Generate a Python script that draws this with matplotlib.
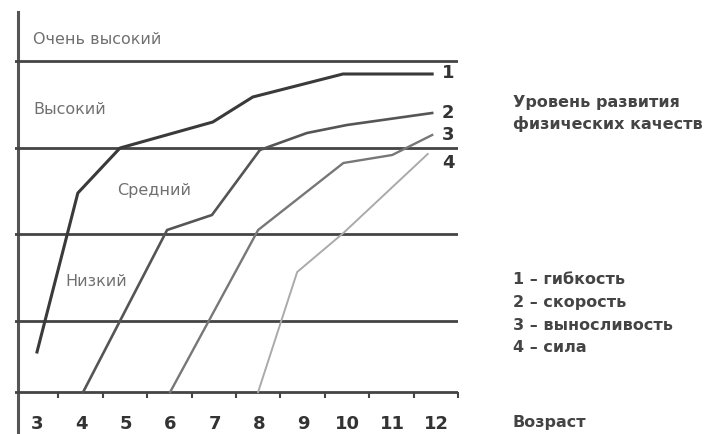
import matplotlib
matplotlib.use("Agg")
import matplotlib.pyplot as plt
from matplotlib.lines import TICKDOWN

# --- data (y in arbitrary "level" units, bottom line = 0) ---
ages = [3, 4, 5, 6, 7, 8, 9, 10, 11, 12]
level_lines = [0, 71, 158, 244, 331]
level_names = ["Очень высокий", "Высокий", "Средний", "Низкий"]
level_pos = [(2.91, 353), (2.91, 282), (4.80, 202), (3.63, 110)]

ages1 = [3.0, 3.92, 4.87, 6.96, 7.86, 9.89, 11.9]
vals1 = [40, 199, 244, 270, 295, 318, 318]
ages2 = [4.04, 5.93, 6.94, 8.02, 9.08, 9.98, 11.9]
vals2 = [0, 162, 177, 242, 259, 267, 279]
ages3 = [6.0, 7.98, 9.9, 11.0, 11.9]
vals3 = [0, 162, 229, 237, 257]
ages4 = [7.98, 8.86, 9.9, 11.8]
vals4 = [0, 120, 159, 238]

series = [(ages1, vals1), (ages2, vals2), (ages3, vals3), (ages4, vals4)]
end_labels = ["1", "2", "3", "4"]
end_y = [319, 279, 257, 229]
colors = ["#3a3a3a", "#555555", "#777777", "#aaaaaa"]
widths = [2.2, 1.9, 1.7, 1.4]

legend_lines = ["1 – гибкость", "2 – скорость", "3 – выносливость", "4 – сила"]

W, H = 708, 434
fig = plt.figure(figsize=(W / 100, H / 100), dpi=100)
# axes from px x=15..458, y=12..414
ax = fig.add_axes([15 / W, (H - 414) / H, (458 - 15) / W, (414 - 12) / H])
x_left = 3 - 22 / 44.4
x_right = 3 + 421 / 44.4
ax.set_xlim(x_left, x_right)
ax.set_ylim(-22, 380)
for s in ax.spines.values():
    s.set_visible(False)
ax.set_yticks([])
ax.set_xticks(ages)
ax.set_xticklabels([str(a) for a in ages], fontsize=13, fontweight="bold", color="#333333")
ax.tick_params(axis="x", length=0, pad=1)

# vertical axis (extends below the bottom line)
x_axis = 3 - 19 / 44.4
ax.axvline(x_axis, ymin=-0.06, ymax=1.0, color="#555555", lw=2.2, clip_on=False)

for y in level_lines:
    ax.axhline(y, color="#444444", lw=2.0)

ax.plot([a + 0.48 for a in ages], [0] * len(ages), ls="", marker=TICKDOWN,
        markersize=4, markeredgewidth=1.5, color="#444444")

for (xs, ys), c, w in zip(series, colors, widths):
    ax.plot(xs, ys, color=c, lw=w, solid_joinstyle="round")

for lab, y in zip(end_labels, end_y):
    ax.text(12.26, y, lab, fontsize=13, fontweight="bold", color="#333333",
            ha="center", va="center")

for name, (x, y) in zip(level_names, level_pos):
    ax.text(x, y, name, fontsize=11.5, color="#707070", ha="left", va="center")

tx = 513 / W
fig.text(tx, 1 - 103 / H, "Уровень развития", fontsize=11.5, fontweight="bold",
         color="#444444", va="center")
fig.text(tx, 1 - 124 / H, "физических качеств", fontsize=11.5, fontweight="bold",
         color="#444444", va="center")
for i, t in enumerate(legend_lines):
    fig.text(tx, 1 - (279 + 23 * i) / H, t, fontsize=11.5, fontweight="bold",
             color="#444444", va="center")
fig.text(tx, 1 - 423 / H, "Возраст", fontsize=11.5, fontweight="bold",
         color="#444444", va="center")

fig.savefig("out.png", dpi=100)
